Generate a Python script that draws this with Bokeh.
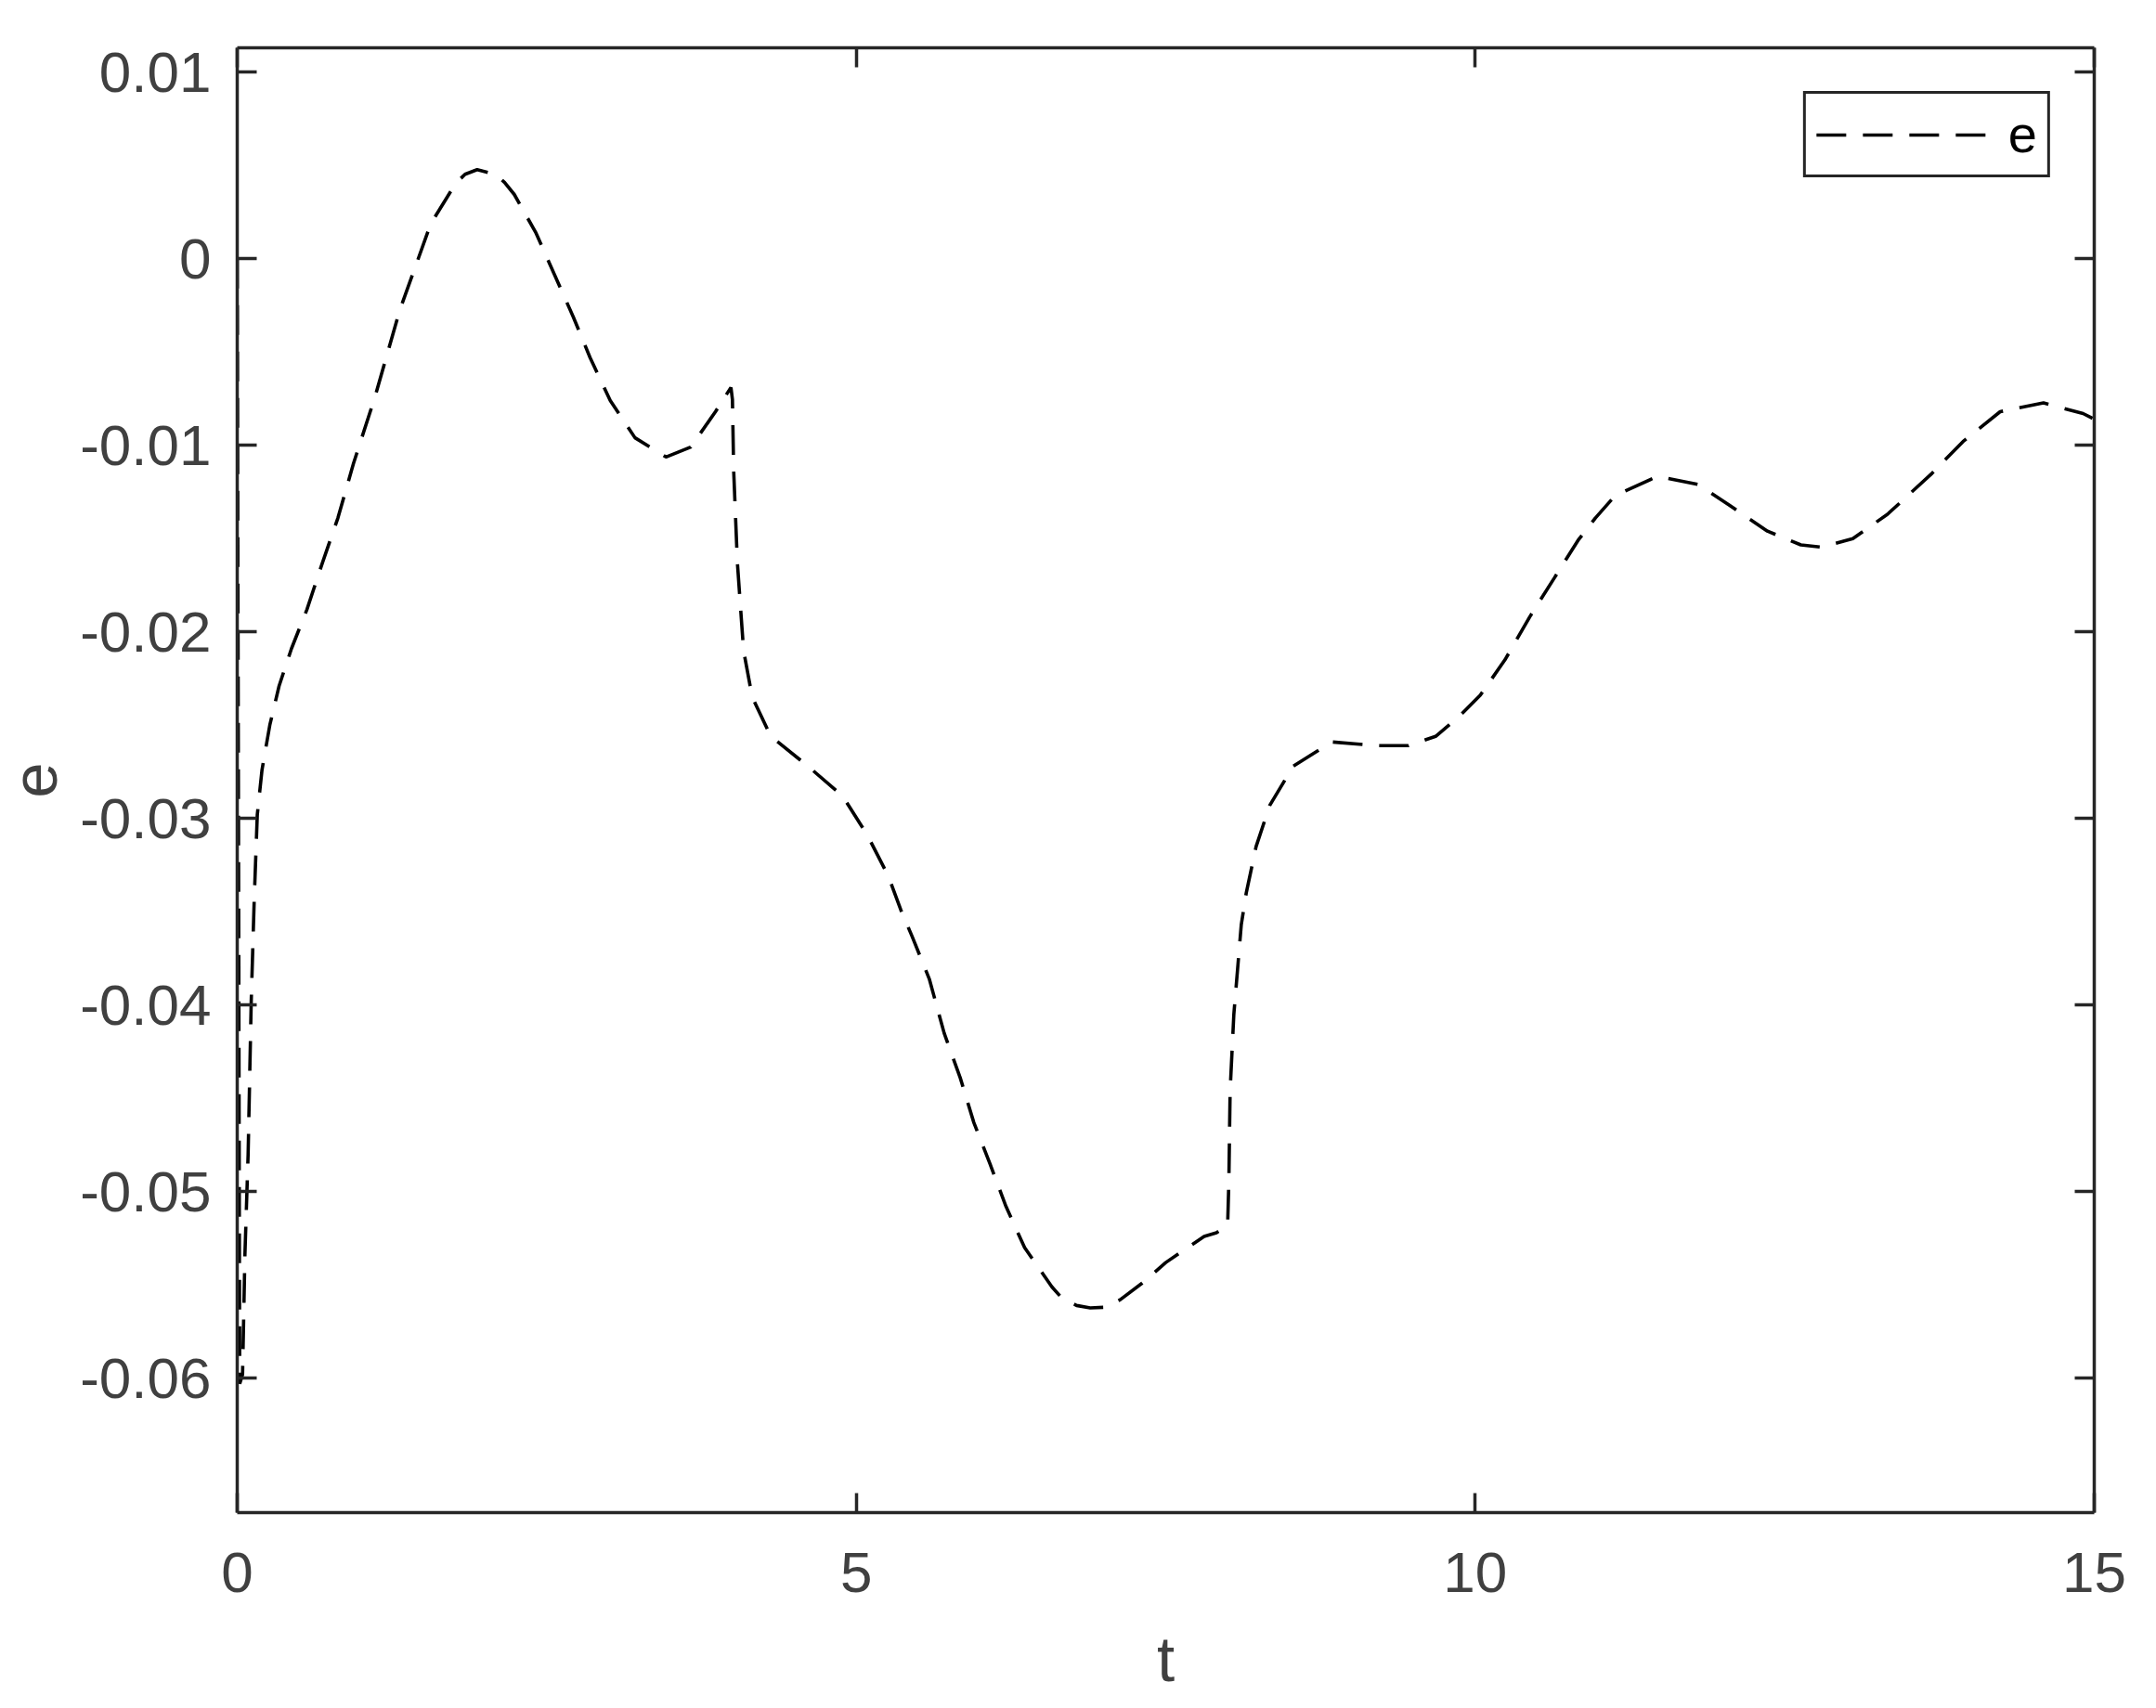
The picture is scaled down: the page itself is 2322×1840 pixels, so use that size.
from bokeh.plotting import figure
from bokeh.models import LinearAxis, FixedTicker, Range1d
from bokeh.embed import file_html
from bokeh.resources import INLINE

# ---- data ----
t_vals = [0.0, 0.02, 0.043, 0.062, 0.088, 0.113, 0.137, 0.162, 0.2, 0.263, 0.338,
          0.438, 0.563, 0.688, 0.813, 0.938, 1.113, 1.313, 1.438, 1.563, 1.763,
          1.84, 1.938, 2.088, 2.16, 2.238, 2.413, 2.563, 2.713, 2.85, 3.013, 3.213,
          3.463, 3.663, 3.863, 3.988, 4.0, 4.01, 4.04, 4.09, 4.16, 4.31, 4.61, 4.89,
          5.09, 5.26, 5.36, 5.45, 5.59, 5.71, 5.84, 5.95, 6.08, 6.21, 6.36, 6.58,
          6.66, 6.78, 6.89, 7.0, 7.13, 7.31, 7.50, 7.81, 7.91, 8.0, 8.01, 8.02,
          8.05, 8.08, 8.11, 8.15, 8.23, 8.34, 8.53, 8.84, 9.20, 9.46, 9.68, 9.86,
          10.04, 10.24, 10.44, 10.64, 10.83, 10.97, 11.13, 11.47, 11.80, 12.05,
          12.36, 12.63, 12.80, 13.05, 13.33, 13.69, 13.94, 14.24, 14.59, 14.91, 15.0]
e_vals = [0.0, -0.0603, -0.0598, -0.0534, -0.0480, -0.0398, -0.0344, -0.0298,
          -0.0274, -0.0250, -0.0229, -0.0209, -0.0188, -0.0163, -0.0139, -0.0110,
          -0.0074, -0.00275, -0.00045, 0.00187, 0.00402, 0.00452, 0.00477,
          0.00452, 0.00408, 0.00344, 0.00138, -0.00086, -0.0031, -0.0053, -0.0076,
          -0.0096, -0.01063, -0.0101, -0.0082, -0.0069, -0.00755, -0.01135,
          -0.0163, -0.0210, -0.0235, -0.0256, -0.0272, -0.0288, -0.0309, -0.0331,
          -0.0349, -0.0363, -0.0386, -0.0415, -0.0439, -0.0463, -0.0485, -0.0508,
          -0.0530, -0.0551, -0.0557, -0.0561, -0.05623, -0.0562, -0.0558, -0.0549,
          -0.0538, -0.0524, -0.0522, -0.0518, -0.0494, -0.0446, -0.0405, -0.0381,
          -0.0357, -0.0340, -0.0315, -0.0293, -0.0272, -0.0259, -0.0261, -0.0261,
          -0.0256, -0.0246, -0.0234, -0.0215, -0.0192, -0.0171, -0.0151, -0.0139,
          -0.0127, -0.01167, -0.0121, -0.0132, -0.0146, -0.01534, -0.01546,
          -0.0150, -0.0137, -0.0115, -0.0098, -0.0082, -0.00773, -0.0083, -0.0086]

x_ticks = [0, 5, 10, 15]
x_tick_labels = ["0", "5", "10", "15"]
y_ticks = [-0.06, -0.05, -0.04, -0.03, -0.02, -0.01, 0.0, 0.01]
y_tick_labels = ["-0.06", "-0.05", "-0.04", "-0.03", "-0.02", "-0.01", "0", "0.01"]

series_name = "e"
x_label = "t"
y_label = "e"

# ---- styling ----
FONT = "Liberation Sans"
AX = "#262626"
LBL = "#404040"

p = figure(frame_width=2000, frame_height=1578,
           x_range=Range1d(0, 15), y_range=Range1d(-0.0672, 0.0113),
           output_backend="svg", toolbar_location=None,
           min_border_left=255, min_border_right=59,
           min_border_top=51, min_border_bottom=200,
           background_fill_color="white", border_fill_color="white")
p.grid.visible = False
p.outline_line_color = None

p.line(t_vals, e_vals, line_color="black", line_width=3.6,
       line_dash="32 18", legend_label=series_name)

def style_axis(ax, ticks, labels, show_labels=True):
    ax.ticker = FixedTicker(ticks=ticks)
    if show_labels:
        ax.major_label_overrides = dict(zip(ticks, labels))
    else:
        ax.major_label_overrides = {k: "" for k in ticks}
    ax.axis_line_color = AX
    ax.axis_line_width = 3.5
    ax.major_tick_line_color = AX
    ax.major_tick_line_width = 3.5
    ax.major_tick_in = 21
    ax.major_tick_out = 0
    ax.minor_tick_line_color = None
    ax.major_label_text_font = FONT
    ax.major_label_text_font_size = "62px"
    ax.major_label_text_color = LBL
    ax.axis_label_text_font = FONT
    ax.axis_label_text_font_size = "69px"
    ax.axis_label_text_font_style = "normal"
    ax.axis_label_text_color = LBL

xa = p.xaxis[0]
ya = p.yaxis[0]
style_axis(xa, x_ticks, x_tick_labels)
style_axis(ya, y_ticks, y_tick_labels)
xa.axis_label = x_label
ya.axis_label = y_label
xa.major_label_standoff = 43
ya.major_label_standoff = 28
xa.axis_label_standoff = 31
ya.axis_label_standoff = 22

top = LinearAxis()
right = LinearAxis()
style_axis(top, x_ticks, x_tick_labels, show_labels=False)
style_axis(right, y_ticks, y_tick_labels, show_labels=False)
top.major_label_text_font_size = "1px"
right.major_label_text_font_size = "1px"
top.major_label_standoff = 0
right.major_label_standoff = 0
p.add_layout(top, "above")
p.add_layout(right, "right")

lg = p.legend[0]
lg.location = "top_right"
lg.margin = 47
lg.padding = 11
lg.spacing = 0
lg.glyph_width = 186
lg.glyph_height = 20
lg.label_standoff = 21
lg.label_height = 56
lg.label_text_font = FONT
lg.label_text_font_size = "56px"
lg.label_text_color = "black"
lg.border_line_color = AX
lg.border_line_alpha = 1.0
lg.border_line_width = 3.4
lg.background_fill_color = "white"
lg.background_fill_alpha = 1.0

open("out.html", "w").write(file_html(p, INLINE))
